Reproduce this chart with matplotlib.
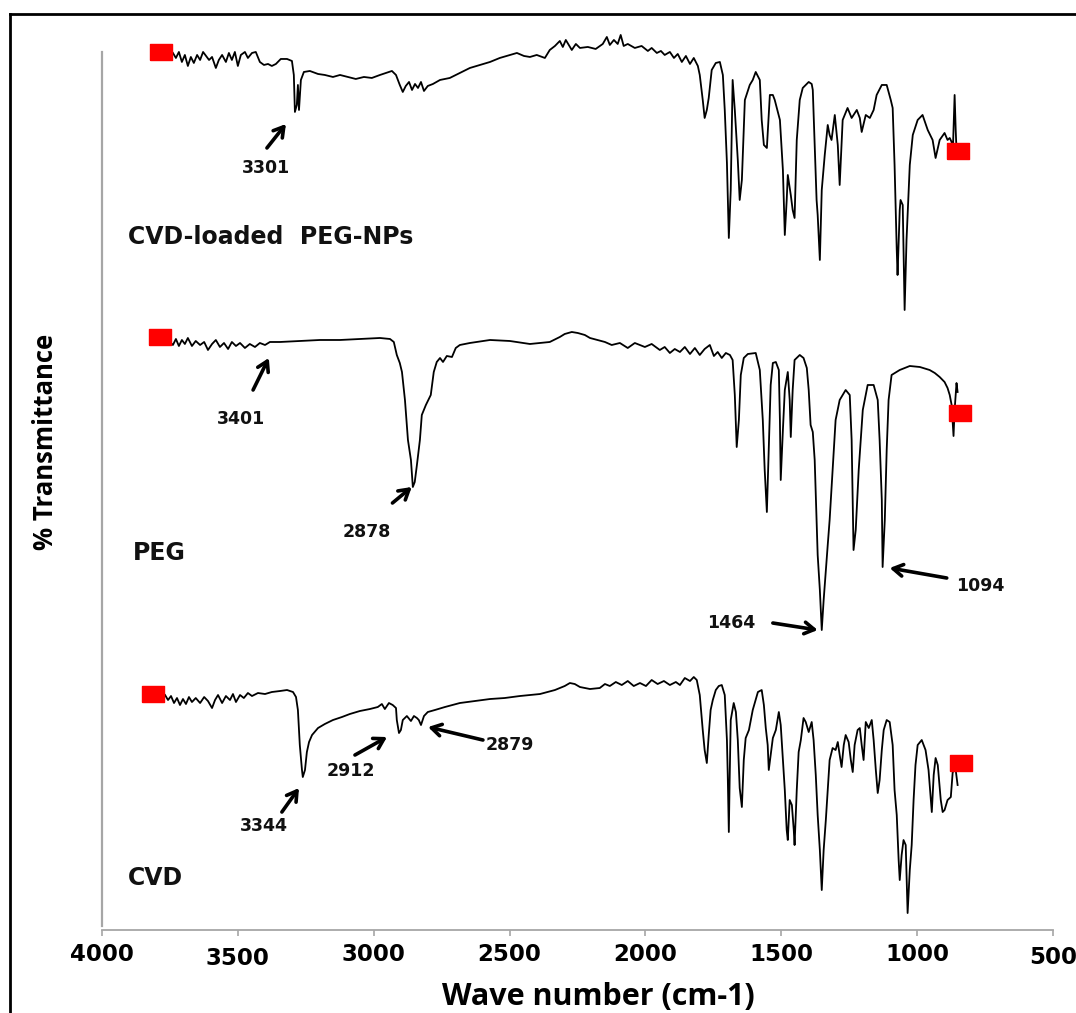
"""FTIR spectra: CVD, PEG and CVD-loaded PEG-NPs (stacked, arbitrary offsets)."""
import matplotlib
matplotlib.use('Agg')
import matplotlib.pyplot as plt
import matplotlib.transforms as mtrans
from matplotlib.lines import Line2D

# ---- data (wave number cm-1, % transmittance with stacking offset) ----
np_wn = [3739, 3728, 3717, 3706, 3695, 3684, 3673, 3662, 3650, 3639, 3628, 3617, 3606, 3595,
         3581, 3570, 3558, 3544, 3533, 3522, 3511, 3500, 3489, 3474, 3463, 3448, 3434, 3419,
         3404, 3389, 3375, 3360, 3342, 3319, 3301, 3294, 3290, 3283, 3279, 3275, 3268, 3257,
         3235, 3205, 3180, 3150, 3124, 3095, 3066, 3036, 3007, 2977, 2955, 2933, 2918, 2904,
         2893, 2882, 2870, 2859, 2848, 2837, 2826, 2815, 2801, 2782, 2756, 2720, 2683, 2646,
         2609, 2572, 2536, 2499, 2473, 2447, 2425, 2400, 2370, 2352, 2333, 2315, 2304, 2293,
         2282, 2271, 2256, 2241, 2212, 2183, 2157, 2142, 2131, 2116, 2102, 2091, 2080, 2065,
         2039, 2014, 1991, 1977, 1958, 1943, 1929, 1910, 1895, 1881, 1866, 1851, 1836, 1822,
         1807, 1800, 1789, 1782, 1774, 1767, 1756, 1741, 1726, 1715, 1708, 1700, 1693, 1686,
         1679, 1671, 1660, 1653, 1645, 1634, 1616, 1605, 1594, 1579, 1572, 1564, 1553, 1542,
         1531, 1524, 1505, 1494, 1487, 1480, 1476, 1465, 1458, 1451, 1443, 1432, 1421, 1410,
         1399, 1388, 1384, 1377, 1370, 1366, 1358, 1351, 1340, 1329, 1322, 1315, 1303, 1292,
         1285, 1274, 1256, 1241, 1222, 1211, 1204, 1189, 1174, 1160, 1149, 1130, 1112, 1097,
         1090, 1083, 1075, 1072, 1064, 1061, 1053, 1046, 1039, 1027, 1016, 998, 980, 961,
         943, 932, 917, 899, 888, 880, 873, 869, 862, 858, 855]
np_t = [87.7, 87.2, 87.8, 86.8, 87.5, 86.4, 87.3, 86.7, 87.5, 87.0, 87.8, 87.4, 87.0, 87.3,
        86.2, 87.0, 87.5, 86.8, 87.7, 87.0, 87.8, 86.4, 87.5, 87.8, 87.2, 87.7, 87.8, 86.8,
        86.5, 86.6, 86.4, 86.6, 87.1, 87.1, 86.9, 85.5, 81.8, 82.5, 84.5, 82.0, 85.0, 85.8,
        85.9, 85.6, 85.5, 85.3, 85.5, 85.3, 85.1, 85.3, 85.2, 85.5, 85.7, 85.9, 85.5, 84.5,
        83.8, 84.4, 84.8, 84.0, 84.6, 84.2, 84.8, 83.9, 84.4, 84.6, 85.0, 85.2, 85.7, 86.2,
        86.5, 86.8, 87.2, 87.5, 87.7, 87.4, 87.3, 87.5, 87.2, 88.0, 88.4, 88.9, 88.3, 89.0,
        88.5, 88.0, 88.6, 88.2, 88.3, 88.1, 88.6, 89.3, 88.5, 89.0, 88.6, 89.5, 88.4, 88.6,
        88.2, 88.4, 87.9, 88.2, 87.7, 87.9, 87.5, 87.8, 87.2, 87.6, 86.8, 87.4, 86.6, 87.2,
        86.4, 85.5, 83.0, 81.2, 82.0, 83.2, 86.0, 86.7, 86.8, 85.5, 82.0, 76.7, 69.2, 74.0,
        85.0, 82.0, 77.0, 73.0, 75.0, 83.0, 84.5, 85.0, 85.8, 85.0, 81.0, 78.5, 78.2, 83.5,
        83.5, 83.0, 81.0, 76.0, 69.5, 73.0, 75.5, 73.5, 72.0, 71.2, 79.0, 83.0, 84.2, 84.5,
        84.8, 84.6, 84.0, 78.5, 73.0, 71.5, 67.0, 74.0, 77.5, 80.5, 79.5, 79.0, 81.5, 78.5,
        74.5, 81.0, 82.2, 81.2, 82.0, 81.2, 79.8, 81.5, 81.2, 82.0, 83.5, 84.5, 84.5, 83.0,
        82.2, 76.5, 68.0, 65.5, 72.0, 73.0, 72.5, 62.0, 69.0, 76.5, 79.5, 81.0, 81.5, 80.0,
        79.0, 77.2, 79.0, 79.7, 79.0, 79.2, 78.8, 77.5, 83.5, 80.0, 78.0]

peg_wn = [3750, 3739, 3728, 3717, 3706, 3695, 3684, 3669, 3655, 3639, 3624, 3610, 3595, 3581,
          3566, 3551, 3536, 3522, 3507, 3492, 3474, 3456, 3437, 3419, 3400, 3382, 3345, 3272,
          3198, 3124, 3051, 2977, 2940, 2926, 2915, 2904, 2896, 2885, 2874, 2863, 2856, 2849,
          2841, 2830, 2823, 2808, 2790, 2779, 2768, 2756, 2745, 2731, 2712, 2698, 2683, 2646,
          2572, 2499, 2425, 2352, 2315, 2297, 2271, 2249, 2223, 2204, 2149, 2124, 2094, 2065,
          2039, 2002, 1977, 1947, 1929, 1910, 1892, 1873, 1855, 1836, 1818, 1800, 1782, 1763,
          1748, 1734, 1719, 1704, 1689, 1679, 1671, 1664, 1656, 1649, 1638, 1623, 1594, 1579,
          1568, 1561, 1553, 1546, 1539, 1531, 1520, 1509, 1505, 1502, 1494, 1487, 1476, 1469,
          1465, 1458, 1451, 1432, 1418, 1406, 1399, 1392, 1384, 1377, 1370, 1366, 1358, 1351,
          1344, 1336, 1329, 1322, 1311, 1300, 1285, 1263, 1248, 1241, 1237, 1234, 1226, 1215,
          1200, 1182, 1160, 1145, 1138, 1130, 1127, 1119, 1112, 1105, 1094, 1064, 1027, 990,
          954, 935, 917, 899, 888, 880, 873, 866, 862, 855, 851]
peg_t = [58.8, 58.5, 59.1, 58.4, 59.0, 58.6, 59.2, 58.4, 58.9, 58.5, 58.8, 58.0, 58.6, 59.0,
         58.3, 58.7, 58.1, 58.8, 58.4, 58.7, 58.2, 58.6, 58.3, 58.7, 58.5, 58.8, 58.8, 58.9,
         59.0, 59.0, 59.1, 59.2, 59.1, 58.8, 57.5, 56.7, 55.8, 53.0, 49.0, 47.0, 44.3, 44.8,
         46.5, 49.0, 51.5, 52.5, 53.5, 55.8, 56.8, 57.2, 56.8, 57.4, 57.3, 58.2, 58.5, 58.7,
         59.0, 58.9, 58.6, 58.8, 59.3, 59.6, 59.8, 59.7, 59.5, 59.2, 58.8, 58.5, 58.7, 58.2,
         58.7, 58.3, 58.6, 58.0, 58.3, 57.7, 58.1, 57.8, 58.3, 57.6, 58.2, 57.5, 58.1, 58.5,
         57.4, 57.8, 57.2, 57.7, 57.5, 57.0, 53.5, 48.3, 51.0, 55.5, 57.2, 57.6, 57.7, 56.0,
         51.0, 46.0, 41.8, 48.0, 54.5, 56.7, 56.8, 56.0, 51.0, 45.0, 50.0, 54.0, 55.8, 53.0,
         49.3, 54.0, 57.0, 57.5, 57.2, 56.2, 54.0, 50.5, 49.8, 47.0, 41.0, 37.5, 34.0, 30.0,
         33.0, 36.0, 38.5, 41.0, 46.0, 51.0, 53.0, 54.0, 53.5, 49.0, 43.0, 38.0, 40.0, 46.0,
         52.0, 54.5, 54.5, 53.0, 49.0, 43.0, 36.3, 41.0, 48.0, 53.0, 55.5, 56.0, 56.4, 56.3,
         56.0, 55.7, 55.3, 54.8, 54.2, 53.5, 52.5, 49.4, 52.0, 54.7, 53.8]

cvd_wn = [3768, 3757, 3746, 3735, 3724, 3713, 3702, 3691, 3680, 3669, 3655, 3639, 3624, 3610,
          3595, 3584, 3573, 3558, 3544, 3529, 3518, 3507, 3492, 3478, 3463, 3448, 3426, 3400,
          3375, 3345, 3319, 3297, 3286, 3279, 3272, 3264, 3261, 3253, 3246, 3238, 3227, 3205,
          3180, 3150, 3117, 3088, 3051, 3014, 2985, 2970, 2959, 2944, 2930, 2918, 2915, 2907,
          2900, 2893, 2878, 2863, 2852, 2841, 2834, 2826, 2815, 2801, 2775, 2738, 2683, 2628,
          2572, 2518, 2462, 2388, 2333, 2297, 2278, 2260, 2241, 2204, 2168, 2149, 2131, 2109,
          2087, 2065, 2043, 2020, 1998, 1977, 1955, 1932, 1910, 1888, 1873, 1855, 1836, 1822,
          1811, 1800, 1789, 1782, 1774, 1767, 1760, 1752, 1741, 1730, 1719, 1708, 1700, 1697,
          1693, 1690, 1686, 1675, 1667, 1660, 1653, 1645, 1638, 1631, 1619, 1605, 1586, 1572,
          1564, 1557, 1550, 1546, 1539, 1531, 1520, 1509, 1502, 1494, 1487, 1480, 1476, 1469,
          1461, 1454, 1451, 1443, 1436, 1428, 1418, 1410, 1399, 1388, 1381, 1373, 1366, 1358,
          1351, 1344, 1336, 1329, 1322, 1311, 1300, 1292, 1285, 1278, 1270, 1263, 1252, 1244,
          1237, 1230, 1219, 1211, 1204, 1197, 1189, 1178, 1167, 1160, 1152, 1145, 1138, 1130,
          1123, 1112, 1101, 1090, 1083, 1075, 1068, 1064, 1057, 1050, 1042, 1035, 1027, 1020,
          1013, 1006, 998, 983, 969, 958, 946, 939, 932, 924, 913, 906, 899, 888, 876, 869,
          858, 851]
cvd_t = [23.5, 23.0, 23.4, 22.7, 23.2, 22.5, 23.1, 22.6, 23.3, 22.8, 23.2, 22.7, 23.3, 22.9,
         22.2, 23.0, 23.5, 22.7, 23.4, 23.0, 23.6, 22.8, 23.5, 23.2, 23.7, 23.4, 23.7, 23.6,
         23.8, 23.9, 24.0, 23.8, 23.3, 22.0, 18.5, 16.0, 15.3, 16.0, 17.8, 18.8, 19.5, 20.2,
         20.6, 21.0, 21.3, 21.6, 21.9, 22.1, 22.3, 22.6, 22.1, 22.7, 22.5, 22.2, 21.0, 19.7,
         20.0, 21.0, 21.4, 20.9, 21.4, 21.2, 21.0, 20.5, 21.4, 21.8, 22.0, 22.3, 22.7, 22.9,
         23.1, 23.2, 23.4, 23.6, 24.0, 24.4, 24.7, 24.6, 24.3, 24.1, 24.2, 24.6, 24.4, 24.8,
         24.5, 24.9, 24.4, 24.7, 24.4, 25.0, 24.6, 24.9, 24.5, 24.8, 24.5, 25.2, 24.9, 25.3,
         25.0, 23.5, 20.0, 18.0, 16.7, 19.5, 22.0, 23.0, 24.0, 24.4, 24.5, 23.5, 19.0, 15.5,
         9.8, 15.0, 21.0, 22.7, 21.8, 19.0, 14.2, 12.3, 17.0, 19.2, 20.0, 22.0, 23.8, 24.0,
         22.5, 20.2, 18.5, 16.0, 17.5, 19.2, 20.0, 21.8, 20.5, 17.0, 14.0, 10.0, 9.0, 13.0,
         12.5, 10.0, 8.5, 14.0, 17.8, 19.0, 21.2, 20.8, 19.8, 20.8, 19.0, 15.5, 11.5, 8.0,
         4.0, 8.0, 11.0, 14.0, 17.0, 18.2, 18.0, 18.8, 17.5, 16.3, 18.5, 19.5, 18.8, 17.0,
         15.8, 18.5, 20.0, 20.2, 18.5, 17.0, 20.8, 20.2, 21.0, 19.0, 16.0, 13.7, 15.0, 18.0,
         20.0, 21.0, 20.8, 18.5, 14.0, 11.5, 7.0, 5.0, 7.5, 9.0, 8.5, 1.7, 6.0, 8.5,
         13.0, 16.5, 18.5, 19.0, 18.0, 16.0, 11.8, 15.5, 17.2, 16.5, 13.0, 11.8, 12.0, 13.0,
         13.3, 15.8, 16.0, 14.5]

# red end markers of each trace (wave number, level)
marker_wn = [3783, 851, 3787, 844, 3812, 840]
marker_t = [87.8, 77.9, 59.3, 51.7, 23.6, 16.7]

# sample names
sample_names = ['CVD-loaded  PEG-NPs', 'PEG', 'CVD']
sample_x = [3904, 3886, 3904]
sample_y = [69.3, 37.7, 5.2]

# peak annotations: label, text position, arrow tail, arrow head
peak_labels = ['3301', '3401', '2878', '1464', '1094', '3344', '2912', '2879']
label_xy = [(3397, 76.2), (3489, 51.1), (3025, 39.8), (1686, 30.7),
            (766, 34.4), (3404, 10.4), (3084, 15.9), (2499, 18.5)]
tail_xy = [(3393, 78.2), (3444, 54.0), (2931, 42.7), (1531, 30.7),
           (891, 35.2), (3338, 11.8), (3069, 17.5), (2598, 19.0)]
head_xy = [(3323, 80.6), (3386, 57.2), (2860, 44.3), (1366, 30.0),
           (1101, 36.2), (3275, 14.2), (2951, 19.3), (2800, 20.3)]

xticks = [4000, 3500, 3000, 2500, 2000, 1500, 1000, 500]

# ---- figure ----
fig = plt.figure(figsize=(10.76, 10.13), dpi=100)
ax = fig.add_axes([0.0948, 0.0819, 0.8838, 0.8668])

axis_grey = '#A6A6A6'
for spine in ['top', 'right']:
    ax.spines[spine].set_visible(False)
ax.spines['left'].set_color(axis_grey)
ax.spines['left'].set_linewidth(1.6)
ax.spines['left'].set_bounds(0.4, 87.8)
ax.spines['bottom'].set_color(axis_grey)
ax.spines['bottom'].set_linewidth(1.3)

ax.set_xlim(4000, 500)
ax.set_ylim(0, 87.8)
ax.set_yticks([])
ax.set_xticks(xticks)
ax.set_xticklabels([str(t) for t in xticks], fontsize=16.5, fontweight='bold',
                   family='DejaVu Sans')
ax.tick_params(axis='x', direction='out', length=4, width=1.2, color=axis_grey, pad=5)
# staggered labels as in the original export
for lbl, dy in zip(ax.get_xticklabels(), [0, -4, 0, 0, 0, 0, 0, -3]):
    lbl.set_transform(lbl.get_transform() + mtrans.ScaledTranslation(0, dy / 100, fig.dpi_scale_trans))

for wn, t in [(np_wn, np_t), (peg_wn, peg_t), (cvd_wn, cvd_t)]:
    ax.plot(wn, t, color='black', lw=1.3, clip_on=False, zorder=3)

verts = [(-1.5, -1), (1.5, -1), (1.5, 1), (-1.5, 1), (-1.5, -1)]
ax.plot(marker_wn, marker_t, ls='none', marker=verts, markersize=16.5,
        color='#FF0000', mec='#FF0000', clip_on=False, zorder=4)

for name, x, y in zip(sample_names, sample_x, sample_y):
    ax.text(x, y, name, fontsize=17, fontweight='bold', ha='left', va='center',
            color='#111111')

for lab, (lx, ly), tail, head in zip(peak_labels, label_xy, tail_xy, head_xy):
    ax.text(lx, ly, lab, fontsize=12.5, fontweight='bold', ha='center', va='center',
            color='#111111')
    ax.annotate('', xy=head, xytext=tail,
                arrowprops=dict(arrowstyle='->,head_length=0.5,head_width=0.3',
                                lw=2.6, color='black', shrinkA=0, shrinkB=0,
                                mutation_scale=14))

ax.set_xlabel('Wave number (cm-1)', fontsize=22, fontweight='bold', family='Open Sans')
ax.xaxis.set_label_coords(0.5216, -0.0763)
ax.xaxis.label.set_va('center')
ax.set_ylabel('% Transmittance', fontsize=18.5, family='Open Sans', fontweight='bold')
ax.yaxis.set_label_coords(-0.0589, 0.5558)
ax.yaxis.label.set_va('center')

# outer frame (top and left edges of the original picture)
fig.add_artist(Line2D([10 / 1076, 1], [1 - 14 / 1013, 1 - 14 / 1013], color='black', lw=2))
fig.add_artist(Line2D([10 / 1076, 10 / 1076], [0, 1 - 14 / 1013], color='black', lw=2))

fig.savefig('out.png', dpi=100)
